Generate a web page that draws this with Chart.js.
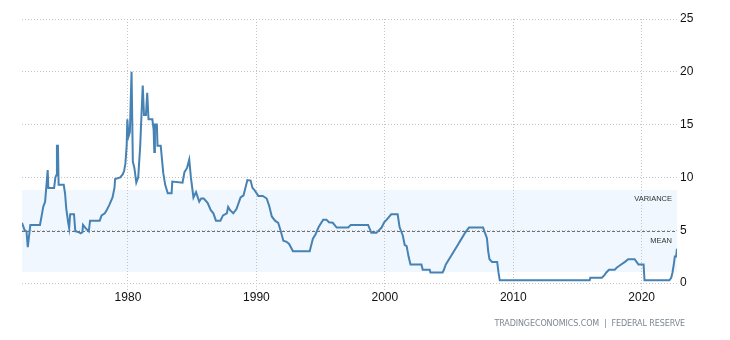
<!DOCTYPE html>
<html>
<head>
<meta charset="utf-8">
<script src="https://cdn.jsdelivr.net/npm/chart.js@4.4.0/dist/chart.umd.min.js"></script>
<style>
  html, body { margin: 0; padding: 0; background: #fff; }
  #wrap { position: relative; width: 730px; height: 340px; }
  #source {
    position: absolute; right: 45px; top: 319px;
    font: 8px "DejaVu Sans", sans-serif; color: #7b8894; letter-spacing: -0.1px;
    white-space: pre;
  }
</style>
</head>
<body>
<div id="wrap">
  <canvas id="rateChart" width="730" height="340"></canvas>
  <div id="source">TRADINGECONOMICS.COM  |  FEDERAL RESERVE</div>
</div>
<script>
// fed funds rate, decimal year -> percent
const years = [
  1971.75, 1971.95, 1972.1, 1972.2, 1972.4, 1973.15, 1973.3, 1973.4, 1973.55, 1973.75,
  1973.8, 1974.25, 1974.35, 1974.42, 1974.47, 1974.55, 1974.6, 1975.0, 1975.1, 1975.2,
  1975.35, 1975.42, 1975.5, 1975.8, 1975.9, 1976.2, 1976.3, 1976.45, 1976.5, 1976.7,
  1976.95, 1977.05, 1977.8, 1977.95, 1978.2, 1978.35, 1978.55, 1978.8, 1978.95, 1979.0,
  1979.4, 1979.6, 1979.7, 1979.8, 1979.9, 1979.95, 1980.05, 1980.15, 1980.28, 1980.38,
  1980.5, 1980.65, 1980.8, 1980.95, 1981.15, 1981.25, 1981.4, 1981.5, 1981.6, 1981.9,
  1982.0, 1982.05, 1982.1, 1982.25, 1982.3, 1982.55, 1982.75, 1982.9, 1983.1, 1983.4,
  1983.45, 1984.25, 1984.4, 1984.6, 1984.77, 1984.9, 1985.1, 1985.3, 1985.55, 1985.7,
  1985.9, 1986.2, 1986.45, 1986.65, 1986.85, 1987.2, 1987.4, 1987.7, 1987.8, 1987.95,
  1988.2, 1988.45, 1988.77, 1989.0, 1989.3, 1989.55, 1989.7, 1989.85, 1990.15, 1990.5,
  1990.8, 1991.0, 1991.2, 1991.45, 1991.7, 1991.9, 1992.1, 1992.35, 1992.55, 1992.85,
  1994.15, 1994.4, 1994.6, 1994.85, 1995.2, 1995.45, 1995.65, 1995.95, 1996.25, 1997.15,
  1997.35, 1998.7, 1998.95, 1999.35, 1999.75, 1999.95, 2000.15, 2000.5, 2001.0, 2001.15,
  2001.4, 2001.55, 2001.7, 2001.85, 2002.0, 2002.85, 2002.95, 2003.5, 2003.55, 2004.5,
  2004.6, 2004.75, 2005.0, 2005.25, 2005.5, 2005.75, 2006.0, 2006.25, 2006.55, 2007.65,
  2007.8, 2007.95, 2008.05, 2008.15, 2008.35, 2008.75, 2008.85, 2008.95, 2015.95, 2016.0,
  2016.9, 2017.1, 2017.25, 2017.45, 2017.9, 2018.1, 2018.4, 2018.7, 2018.95, 2019.45,
  2019.6, 2019.75, 2020.15, 2020.22, 2022.15, 2022.3, 2022.4, 2022.5, 2022.58, 2022.68,
  2022.75
];
const rates = [
  5.7, 5.0, 4.9, 3.4, 5.5, 5.5, 6.5, 7.2, 7.7, 10.7,
  9.0, 9.0, 10.0, 10.2, 13.0, 13.0, 9.3, 9.3, 8.5, 7.0,
  5.7, 5.2, 6.5, 6.5, 4.9, 4.8, 4.7, 4.8, 5.5, 5.2,
  4.9, 5.9, 5.9, 6.4, 6.6, 6.9, 7.4, 8.1, 9.0, 9.85,
  10.0, 10.3, 10.6, 11.3, 13.0, 15.5, 13.9, 14.3, 20.0, 11.5,
  10.9, 9.5, 10.0, 12.9, 18.7, 15.9, 15.9, 18.0, 15.5, 15.5,
  14.5, 12.4, 15.0, 15.0, 13.0, 13.0, 10.4, 9.3, 8.5, 8.5,
  9.6, 9.5, 10.5, 10.9, 11.7, 10.0, 8.1, 8.6, 7.7, 8.0,
  8.0, 7.6, 6.9, 6.6, 5.9, 5.9, 6.4, 6.6, 7.2, 6.9,
  6.6, 7.0, 8.1, 8.3, 9.75, 9.7, 9.0, 8.8, 8.25, 8.25,
  8.0, 7.3, 6.3, 5.9, 5.7, 4.9, 4.0, 3.9, 3.7, 3.0,
  3.0, 4.2, 4.6, 5.3, 6.0, 6.0, 5.75, 5.7, 5.25, 5.25,
  5.5, 5.5, 4.75, 4.75, 5.25, 5.75, 6.0, 6.5, 6.5, 5.3,
  4.5, 3.6, 3.5, 2.5, 1.75, 1.75, 1.25, 1.25, 1.0, 1.0,
  1.25, 1.75, 2.25, 2.75, 3.25, 3.75, 4.25, 4.75, 5.25, 5.25,
  4.75, 4.25, 3.0, 2.25, 2.0, 2.0, 1.0, 0.25, 0.25, 0.5,
  0.5, 0.75, 1.0, 1.25, 1.25, 1.5, 1.75, 2.0, 2.25, 2.25,
  2.0, 1.75, 1.75, 0.25, 0.25, 0.5, 1.0, 1.75, 2.5, 2.5,
  3.25
];
const yearTicks = [1980, 1990, 2000, 2010, 2020];
const rateTicks = [0, 5, 10, 15, 20, 25];
const meanRate = 4.9;
const varianceBand = [1.04, 8.8];

// shaded variance band + dashed mean line, under the series
const bandPlugin = {
  id: 'bandPlugin',
  beforeDraw(chart) {
    const { ctx, chartArea: a, scales: { y } } = chart;
    const top = y.getPixelForValue(varianceBand[1]);
    const bottom = y.getPixelForValue(varianceBand[0]);
    ctx.save();
    ctx.fillStyle = '#f0f7fe';
    ctx.fillRect(a.left, top, a.right - a.left, bottom - top);
    ctx.restore();
  },
  beforeDatasetsDraw(chart) {
    const { ctx, chartArea: a, scales: { y } } = chart;
    const my = Math.round(y.getPixelForValue(meanRate)) + 0.5;
    ctx.save();
    ctx.strokeStyle = '#707070';
    ctx.lineWidth = 1;
    ctx.setLineDash([3, 2]);
    ctx.beginPath();
    ctx.moveTo(a.left, my);
    ctx.lineTo(a.right, my);
    ctx.stroke();
    ctx.setLineDash([]);
    ctx.fillStyle = '#333';
    ctx.font = '7.5px "Liberation Sans", Arial, sans-serif';
    ctx.textAlign = 'right';
    ctx.textBaseline = 'middle';
    ctx.fillText('VARIANCE', a.right - 5, y.getPixelForValue(varianceBand[1]) + 9);
    ctx.fillText('MEAN', a.right - 5, my + 9);
    ctx.restore();
  }
};

const gridDots = { color: '#c4c4c4', lineWidth: 1 };

new Chart(document.getElementById('rateChart'), {
  type: 'line',
  data: {
    datasets: [{
      data: years.map((yr, i) => ({ x: yr, y: rates[i] })),
      borderColor: '#4682b4',
      borderWidth: 2,
      pointRadius: 0,
      fill: false,
      tension: 0
    }]
  },
  options: {
    responsive: false,
    animation: false,
    events: [],
    layout: { padding: { left: 22, top: 19, right: 0, bottom: 0 } },
    plugins: { legend: { display: false }, tooltip: { enabled: false } },
    scales: {
      x: {
        type: 'linear',
        min: 1971.75,
        max: 2022.75,
        afterBuildTicks(scale) { scale.ticks = yearTicks.map(v => ({ value: v })); },
        afterFit(scale) { scale.height = 57; },
        grid: { ...gridDots, tickLength: 7, tickBorderDash: [1, 2] },
        border: { display: false, dash: [1, 2] },
        ticks: {
          color: '#111',
          padding: 0,
          maxRotation: 0,
          font: { family: '"Liberation Sans", Arial, sans-serif', size: 12 },
          callback: v => String(v)
        }
      },
      y: {
        position: 'right',
        min: 0,
        max: 25,
        afterBuildTicks(scale) { scale.ticks = rateTicks.map(v => ({ value: v })); },
        afterFit(scale) { scale.width = 53; },
        grid: { ...gridDots, drawTicks: false },
        border: { display: false, dash: [1, 2] },
        ticks: {
          color: '#111',
          padding: 3,
          font: { family: '"Liberation Sans", Arial, sans-serif', size: 12 }
        }
      }
    }
  },
  plugins: [bandPlugin]
});
</script>
</body>
</html>
